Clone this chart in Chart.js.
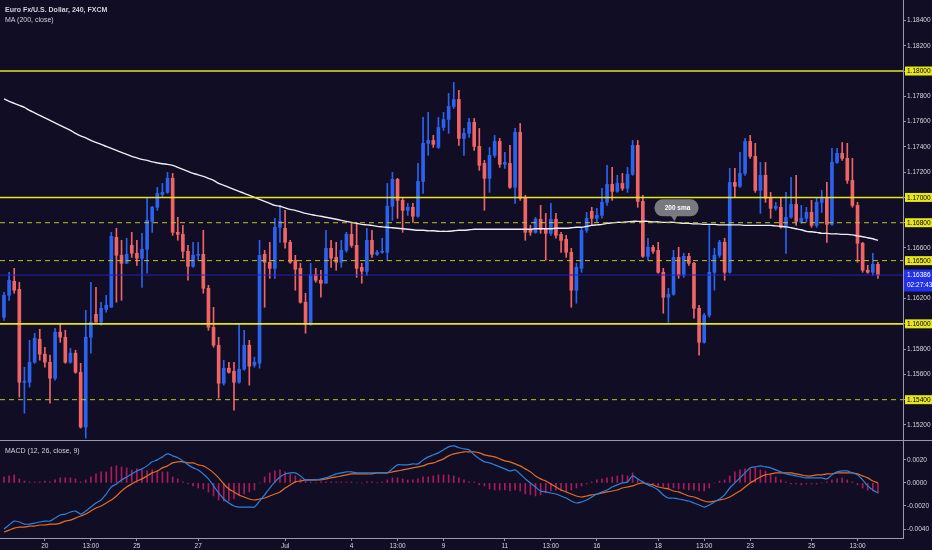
<!DOCTYPE html>
<html>
<head>
<meta charset="utf-8">
<title>Euro Fx/U.S. Dollar, 240, FXCM</title>
<script src="https://cdn.jsdelivr.net/npm/chart.js@4.4.1/dist/chart.umd.min.js"></script>
<style>
    html, body { margin: 0; padding: 0; background: #100d24; }
    #wrap { position: relative; width: 932px; height: 550px; overflow: hidden; background: #100d24; }
    canvas { position: absolute; left: 0; display: block; }
    #main { top: 0; }
    #macd { top: 440px; }
    #sep { position: absolute; left: 0; top: 440px; width: 932px; height: 1px; background: #9a98ac; }
    .lbl { position: absolute; left: 5px; font: 7px 'Liberation Sans', Arial, sans-serif; line-height: 1; color: #d2d2da; white-space: nowrap; }
</style>
</head>
<body>
<div id="wrap">
    <canvas id="main" width="932" height="440"></canvas>
    <canvas id="macd" width="932" height="110"></canvas>
    <div id="sep"></div>
    <div class="lbl" style="top:5.5px;font-weight:bold">Euro Fx/U.S. Dollar, 240, FXCM</div>
    <div class="lbl" style="top:15.5px">MA (200, close)</div>
    <div class="lbl" style="top:447px">MACD (12, 26, close, 9)</div>
</div>
<script>
// 4H candles, EUR/USD (FXCM)
const opens = [
    1.16052, 1.16226, 1.16337, 1.16273, 1.15538, 1.15538, 1.15696, 1.15878, 1.15760, 1.15696,
    1.15570, 1.15934, 1.15894, 1.15696, 1.15768, 1.15617, 1.15183, 1.15894, 1.16076, 1.16013,
    1.16115, 1.16131, 1.16685, 1.16542, 1.16479, 1.16621, 1.16558, 1.16519, 1.16590, 1.16811,
    1.16922, 1.17024, 1.17040, 1.17151, 1.16724, 1.16708, 1.16574, 1.16455, 1.16542, 1.16550,
    1.16281, 1.15973, 1.15831, 1.15530, 1.15649, 1.15625, 1.15538, 1.15641, 1.15831, 1.15673,
    1.15688, 1.16550, 1.16487, 1.16439, 1.16764, 1.16756, 1.16645, 1.16503, 1.16439, 1.16171,
    1.15997, 1.16392, 1.16345, 1.16321, 1.16598, 1.16526, 1.16487, 1.16582, 1.16708, 1.16621,
    1.16447, 1.16416, 1.16661, 1.16550, 1.16566, 1.16566, 1.16930, 1.17143, 1.16977, 1.16898,
    1.16922, 1.16851, 1.17127, 1.17428, 1.17451, 1.17396, 1.17554, 1.17617, 1.17720, 1.17775,
    1.17467, 1.17507, 1.17594, 1.17404, 1.17269, 1.17151, 1.17333, 1.17443, 1.17262, 1.17269,
    1.17080, 1.17515, 1.16993, 1.16748, 1.16724, 1.16827, 1.16748, 1.16716, 1.16827, 1.16708,
    1.16669, 1.16566, 1.16266, 1.16439, 1.16740, 1.16890, 1.16835, 1.16858, 1.16961, 1.17103,
    1.17048, 1.17111, 1.17072, 1.17183, 1.17412, 1.16969, 1.16534, 1.16605, 1.16582, 1.16408,
    1.16210, 1.16234, 1.16526, 1.16384, 1.16534, 1.16479, 1.16123, 1.15854, 1.16068, 1.16408,
    1.16542, 1.16645, 1.16408, 1.17119, 1.17088, 1.17190, 1.17443, 1.17325, 1.17056, 1.17175,
    1.16993, 1.16914, 1.16922, 1.16764, 1.16843, 1.16945, 1.16803, 1.16835, 1.16882, 1.16779,
    1.16961, 1.16993, 1.16787, 1.17277, 1.17349, 1.17309, 1.17135, 1.16937, 1.16637, 1.16424,
    1.16408, 1.16471
];
const highs = [
    1.16250, 1.16408, 1.16439, 1.16329, 1.15657, 1.15870, 1.15926, 1.15957, 1.15815, 1.15752,
    1.15965, 1.16005, 1.15949, 1.15807, 1.15791, 1.15688, 1.16107, 1.16329, 1.16289, 1.16171,
    1.16226, 1.16724, 1.16756, 1.16661, 1.16677, 1.16724, 1.16661, 1.16716, 1.17001, 1.16930,
    1.17080, 1.17111, 1.17198, 1.17190, 1.16843, 1.16779, 1.16621, 1.16645, 1.16645, 1.16740,
    1.16305, 1.16131, 1.15894, 1.15712, 1.15696, 1.15696, 1.16005, 1.15949, 1.15870, 1.15736,
    1.16661, 1.16582, 1.16645, 1.16835, 1.16937, 1.16898, 1.16661, 1.16542, 1.16479, 1.16242,
    1.16479, 1.16439, 1.16424, 1.16740, 1.16661, 1.16645, 1.16661, 1.16724, 1.16795, 1.16803,
    1.16479, 1.16756, 1.16740, 1.16582, 1.16677, 1.17111, 1.17198, 1.17151, 1.16993, 1.16953,
    1.16953, 1.17269, 1.17633, 1.17673, 1.17491, 1.17633, 1.17673, 1.17823, 1.17910, 1.17847,
    1.17546, 1.17625, 1.17625, 1.17546, 1.17293, 1.17396, 1.17491, 1.17467, 1.17356, 1.17412,
    1.17546, 1.17586, 1.17017, 1.16779, 1.16843, 1.16937, 1.16874, 1.16953, 1.16874, 1.16724,
    1.16700, 1.16598, 1.16479, 1.16756, 1.16882, 1.16922, 1.16914, 1.17072, 1.17254, 1.17238,
    1.17175, 1.17190, 1.17238, 1.17451, 1.17451, 1.17017, 1.16677, 1.16621, 1.16645, 1.16439,
    1.16281, 1.16582, 1.16605, 1.16558, 1.16558, 1.16487, 1.16147, 1.16084, 1.16779, 1.16598,
    1.16661, 1.16677, 1.17230, 1.17230, 1.17356, 1.17467, 1.17491, 1.17428, 1.17277, 1.17277,
    1.17040, 1.16961, 1.17001, 1.17040, 1.17159, 1.17175, 1.16937, 1.16922, 1.16977, 1.16993,
    1.17056, 1.17119, 1.17388, 1.17388, 1.17435, 1.17428, 1.17309, 1.16961, 1.16645, 1.16463,
    1.16558, 1.16487
];
const lows = [
    1.16028, 1.16186, 1.16242, 1.15420, 1.15293, 1.15499, 1.15688, 1.15712, 1.15657, 1.15372,
    1.15554, 1.15854, 1.15688, 1.15688, 1.15609, 1.15175, 1.15096, 1.15768, 1.16013, 1.15989,
    1.16092, 1.16131, 1.16171, 1.16186, 1.16479, 1.16526, 1.16463, 1.16289, 1.16400, 1.16724,
    1.16898, 1.17001, 1.17032, 1.16700, 1.16661, 1.16519, 1.16345, 1.16447, 1.16503, 1.16242,
    1.15949, 1.15815, 1.15412, 1.15515, 1.15609, 1.15317, 1.15530, 1.15633, 1.15515, 1.15657,
    1.15649, 1.16131, 1.16360, 1.16360, 1.16645, 1.16598, 1.16479, 1.16266, 1.16163, 1.15926,
    1.15989, 1.16329, 1.16210, 1.16321, 1.16447, 1.16424, 1.16447, 1.16566, 1.16605, 1.16368,
    1.16321, 1.16384, 1.16526, 1.16542, 1.16558, 1.16503, 1.16819, 1.16835, 1.16724, 1.16858,
    1.16803, 1.16843, 1.17032, 1.17333, 1.17396, 1.17388, 1.17530, 1.17507, 1.17704, 1.17412,
    1.17333, 1.17475, 1.17372, 1.17214, 1.16898, 1.17040, 1.17317, 1.17238, 1.17230, 1.17072,
    1.16953, 1.16977, 1.16661, 1.16700, 1.16716, 1.16716, 1.16503, 1.16700, 1.16677, 1.16566,
    1.16526, 1.16131, 1.16163, 1.16408, 1.16724, 1.16779, 1.16803, 1.16835, 1.16937, 1.16977,
    1.17040, 1.17056, 1.17040, 1.17175, 1.16922, 1.16526, 1.16503, 1.16558, 1.16400, 1.16084,
    1.16013, 1.16226, 1.16360, 1.16368, 1.16463, 1.16044, 1.15752, 1.15847, 1.16052, 1.16266,
    1.16526, 1.16345, 1.16400, 1.17001, 1.17080, 1.17175, 1.17309, 1.17040, 1.16874, 1.16961,
    1.16835, 1.16898, 1.16756, 1.16558, 1.16835, 1.16779, 1.16795, 1.16803, 1.16764, 1.16764,
    1.16882, 1.16645, 1.16779, 1.17269, 1.17293, 1.17111, 1.16922, 1.16487, 1.16408, 1.16400,
    1.16384, 1.16360
];
const closes = [
    1.16226, 1.16345, 1.16266, 1.15538, 1.15545, 1.15696, 1.15886, 1.15760, 1.15696, 1.15570,
    1.15934, 1.15894, 1.15696, 1.15768, 1.15617, 1.15183, 1.15894, 1.16013, 1.16013, 1.16123,
    1.16147, 1.16692, 1.16542, 1.16479, 1.16550, 1.16558, 1.16519, 1.16590, 1.16819, 1.16922,
    1.17032, 1.17040, 1.17151, 1.16724, 1.16708, 1.16574, 1.16455, 1.16542, 1.16550, 1.16281,
    1.15973, 1.15831, 1.15530, 1.15649, 1.15617, 1.15538, 1.15641, 1.15831, 1.15665, 1.15696,
    1.16542, 1.16487, 1.16439, 1.16764, 1.16811, 1.16645, 1.16487, 1.16432, 1.16171, 1.15997,
    1.16392, 1.16345, 1.16321, 1.16598, 1.16519, 1.16487, 1.16582, 1.16708, 1.16621, 1.16439,
    1.16416, 1.16661, 1.16550, 1.16566, 1.16574, 1.16930, 1.17143, 1.16977, 1.16898, 1.16922,
    1.16851, 1.17127, 1.17428, 1.17451, 1.17420, 1.17554, 1.17617, 1.17720, 1.17775, 1.17467,
    1.17507, 1.17594, 1.17404, 1.17254, 1.17151, 1.17333, 1.17443, 1.17262, 1.17277, 1.17080,
    1.17515, 1.16993, 1.16724, 1.16724, 1.16827, 1.16748, 1.16716, 1.16827, 1.16700, 1.16661,
    1.16566, 1.16266, 1.16447, 1.16740, 1.16835, 1.16835, 1.16858, 1.16961, 1.17103, 1.17048,
    1.17111, 1.17072, 1.17183, 1.17412, 1.16969, 1.16534, 1.16605, 1.16574, 1.16408, 1.16210,
    1.16234, 1.16526, 1.16384, 1.16534, 1.16479, 1.16123, 1.15854, 1.16068, 1.16408, 1.16542,
    1.16645, 1.16408, 1.17119, 1.17088, 1.17190, 1.17443, 1.17325, 1.17056, 1.17175, 1.16993,
    1.16914, 1.16930, 1.16764, 1.16843, 1.16945, 1.16811, 1.16835, 1.16882, 1.16779, 1.16961,
    1.16993, 1.16787, 1.17277, 1.17349, 1.17309, 1.17135, 1.16937, 1.16637, 1.16424, 1.16408,
    1.16471, 1.16386
];
// MA (200, close)
const ma200 = [
    1.17779, 1.17760, 1.17744, 1.17728, 1.17712, 1.17688, 1.17669, 1.17649, 1.17629, 1.17609,
    1.17590, 1.17570, 1.17550, 1.17530, 1.17507, 1.17487, 1.17471, 1.17451, 1.17435, 1.17420,
    1.17404, 1.17388, 1.17372, 1.17356, 1.17341, 1.17325, 1.17313, 1.17301, 1.17293, 1.17281,
    1.17273, 1.17266, 1.17262, 1.17254, 1.17238, 1.17222, 1.17206, 1.17190, 1.17179, 1.17167,
    1.17151, 1.17135, 1.17111, 1.17096, 1.17080, 1.17064, 1.17048, 1.17032, 1.17017, 1.17001,
    1.16985, 1.16969, 1.16953, 1.16937, 1.16930, 1.16918, 1.16906, 1.16898, 1.16886, 1.16874,
    1.16866, 1.16858, 1.16851, 1.16843, 1.16835, 1.16827, 1.16819, 1.16811, 1.16803, 1.16795,
    1.16787, 1.16783, 1.16779, 1.16771, 1.16767, 1.16764, 1.16760, 1.16756, 1.16752, 1.16748,
    1.16744, 1.16740, 1.16740, 1.16736, 1.16736, 1.16732, 1.16732, 1.16732, 1.16736, 1.16740,
    1.16740, 1.16744, 1.16748, 1.16748, 1.16748, 1.16748, 1.16748, 1.16748, 1.16748, 1.16748,
    1.16748, 1.16748, 1.16748, 1.16748, 1.16752, 1.16752, 1.16752, 1.16752, 1.16756, 1.16756,
    1.16756, 1.16760, 1.16764, 1.16764, 1.16771, 1.16779, 1.16783, 1.16787, 1.16795, 1.16799,
    1.16803, 1.16803, 1.16807, 1.16811, 1.16811, 1.16811, 1.16811, 1.16807, 1.16807, 1.16803,
    1.16803, 1.16803, 1.16799, 1.16795, 1.16795, 1.16791, 1.16791, 1.16787, 1.16787, 1.16787,
    1.16783, 1.16783, 1.16783, 1.16783, 1.16783, 1.16779, 1.16779, 1.16779, 1.16779, 1.16779,
    1.16779, 1.16775, 1.16771, 1.16767, 1.16760, 1.16752, 1.16744, 1.16732, 1.16728, 1.16724,
    1.16716, 1.16716, 1.16712, 1.16712, 1.16708, 1.16708, 1.16704, 1.16696, 1.16689, 1.16681,
    1.16673, 1.16661
];
// MACD (12, 26, close, 9)
const macdLine = [
    -0.00400, -0.00365, -0.00331, -0.00339, -0.00357, -0.00357, -0.00348, -0.00339, -0.00331, -0.00331,
    -0.00305, -0.00278, -0.00270, -0.00252, -0.00244, -0.00270, -0.00244, -0.00209, -0.00174, -0.00148,
    -0.00096, -0.00035, -0.00009, 0.00026, 0.00052, 0.00078, 0.00104, 0.00122, 0.00148, 0.00183,
    0.00200, 0.00226, 0.00252, 0.00235, 0.00218, 0.00191, 0.00157, 0.00131, 0.00113, 0.00078,
    0.00035, -0.00026, -0.00087, -0.00139, -0.00174, -0.00200, -0.00209, -0.00209, -0.00209, -0.00209,
    -0.00157, -0.00104, -0.00044, 0.00009, 0.00052, 0.00078, 0.00087, 0.00087, 0.00061, 0.00026,
    0.00026, 0.00026, 0.00035, 0.00044, 0.00061, 0.00078, 0.00087, 0.00096, 0.00096, 0.00087,
    0.00087, 0.00087, 0.00087, 0.00087, 0.00087, 0.00087, 0.00122, 0.00157, 0.00157, 0.00157,
    0.00165, 0.00165, 0.00200, 0.00226, 0.00244, 0.00261, 0.00287, 0.00313, 0.00322, 0.00305,
    0.00296, 0.00287, 0.00244, 0.00209, 0.00183, 0.00174, 0.00157, 0.00139, 0.00122, 0.00104,
    0.00113, 0.00078, 0.00035, 0.00000, -0.00035, -0.00070, -0.00078, -0.00087, -0.00096, -0.00113,
    -0.00131, -0.00157, -0.00174, -0.00165, -0.00148, -0.00122, -0.00096, -0.00078, -0.00061, -0.00035,
    -0.00017, 0.00000, 0.00009, 0.00061, 0.00035, 0.00009, -0.00017, -0.00035, -0.00061, -0.00104,
    -0.00131, -0.00131, -0.00139, -0.00148, -0.00157, -0.00174, -0.00191, -0.00209, -0.00191, -0.00165,
    -0.00139, -0.00104, -0.00044, 0.00000, 0.00044, 0.00087, 0.00131, 0.00139, 0.00148, 0.00139,
    0.00131, 0.00113, 0.00096, 0.00078, 0.00070, 0.00061, 0.00052, 0.00044, 0.00044, 0.00044,
    0.00044, 0.00035, 0.00070, 0.00096, 0.00104, 0.00104, 0.00087, 0.00070, 0.00026, -0.00026,
    -0.00061, -0.00087
];
const signalLine = [
    -0.00426, -0.00409, -0.00392, -0.00383, -0.00383, -0.00374, -0.00374, -0.00365, -0.00365, -0.00357,
    -0.00357, -0.00348, -0.00331, -0.00322, -0.00305, -0.00287, -0.00270, -0.00244, -0.00218, -0.00200,
    -0.00174, -0.00148, -0.00113, -0.00070, -0.00035, -0.00009, 0.00017, 0.00035, 0.00061, 0.00087,
    0.00104, 0.00131, 0.00148, 0.00174, 0.00183, 0.00183, 0.00174, 0.00174, 0.00157, 0.00148,
    0.00122, 0.00087, 0.00044, -0.00009, -0.00052, -0.00078, -0.00104, -0.00122, -0.00139, -0.00148,
    -0.00139, -0.00131, -0.00113, -0.00096, -0.00078, -0.00044, -0.00017, 0.00009, 0.00017, 0.00026,
    0.00026, 0.00026, 0.00026, 0.00035, 0.00044, 0.00052, 0.00061, 0.00070, 0.00078, 0.00078,
    0.00078, 0.00078, 0.00078, 0.00087, 0.00087, 0.00087, 0.00096, 0.00104, 0.00113, 0.00122,
    0.00131, 0.00139, 0.00148, 0.00165, 0.00174, 0.00191, 0.00209, 0.00235, 0.00252, 0.00261,
    0.00270, 0.00270, 0.00270, 0.00261, 0.00244, 0.00235, 0.00226, 0.00209, 0.00191, 0.00183,
    0.00165, 0.00148, 0.00122, 0.00096, 0.00061, 0.00035, 0.00017, -0.00009, -0.00035, -0.00061,
    -0.00078, -0.00096, -0.00113, -0.00122, -0.00113, -0.00104, -0.00096, -0.00087, -0.00078, -0.00070,
    -0.00061, -0.00044, -0.00035, -0.00026, -0.00009, 0.00000, -0.00009, -0.00017, -0.00035, -0.00044,
    -0.00052, -0.00070, -0.00078, -0.00096, -0.00113, -0.00122, -0.00139, -0.00157, -0.00165, -0.00157,
    -0.00148, -0.00139, -0.00122, -0.00096, -0.00070, -0.00035, 0.00000, 0.00026, 0.00052, 0.00070,
    0.00078, 0.00087, 0.00087, 0.00087, 0.00087, 0.00078, 0.00070, 0.00061, 0.00061, 0.00070,
    0.00070, 0.00078, 0.00078, 0.00087, 0.00087, 0.00087, 0.00087, 0.00078, 0.00061, 0.00044,
    0.00017, 0.00000
];
const macdHist = [
    0.00052, 0.00061, 0.00070, 0.00035, 0.00017, 0.00009, 0.00009, 0.00009, 0.00017, 0.00009,
    0.00026, 0.00044, 0.00044, 0.00044, 0.00035, 0.00009, 0.00026, 0.00052, 0.00078, 0.00096,
    0.00096, 0.00139, 0.00148, 0.00139, 0.00131, 0.00113, 0.00122, 0.00113, 0.00104, 0.00113,
    0.00104, 0.00096, 0.00096, 0.00052, 0.00035, 0.00009, -0.00009, -0.00026, -0.00044, -0.00052,
    -0.00078, -0.00113, -0.00148, -0.00157, -0.00157, -0.00139, -0.00113, -0.00096, -0.00078, -0.00061,
    0.00000, 0.00052, 0.00087, 0.00104, 0.00113, 0.00096, 0.00078, 0.00061, 0.00035, 0.00017,
    0.00009, 0.00000, 0.00009, 0.00009, 0.00009, 0.00009, 0.00009, 0.00009, 0.00009, 0.00000,
    0.00000, 0.00009, 0.00009, 0.00000, 0.00009, 0.00026, 0.00044, 0.00044, 0.00035, 0.00026,
    0.00026, 0.00035, 0.00052, 0.00052, 0.00061, 0.00070, 0.00070, 0.00070, 0.00061, 0.00044,
    0.00026, 0.00009, 0.00009, -0.00017, -0.00026, -0.00052, -0.00061, -0.00061, -0.00061, -0.00070,
    -0.00061, -0.00070, -0.00096, -0.00104, -0.00113, -0.00104, -0.00087, -0.00070, -0.00061, -0.00070,
    -0.00070, -0.00061, -0.00044, -0.00026, -0.00009, 0.00009, 0.00026, 0.00035, 0.00044, 0.00052,
    0.00061, 0.00070, 0.00061, 0.00087, 0.00035, 0.00017, 0.00000, -0.00009, -0.00026, -0.00035,
    -0.00052, -0.00044, -0.00052, -0.00052, -0.00061, -0.00061, -0.00070, -0.00070, -0.00044, 0.00000,
    0.00017, 0.00026, 0.00061, 0.00096, 0.00113, 0.00122, 0.00122, 0.00131, 0.00113, 0.00104,
    0.00070, 0.00052, 0.00026, 0.00009, -0.00009, -0.00009, -0.00017, -0.00009, -0.00009, -0.00009,
    0.00000, 0.00009, 0.00026, 0.00035, 0.00044, 0.00026, 0.00009, -0.00017, -0.00044, -0.00061,
    -0.00070, -0.00087
];

// axes
const tickIdx = [8, 17, 26, 38, 55, 68, 77, 86, 98, 107, 116, 128, 137, 146, 158, 167];
const tickText = ['20', '13:00', '25', '27', 'Jul', '4', '13:00', '9', '11', '13:00', '16', '18', '13:00', '23', '25', '13:00'];
const priceTicks = [1.152, 1.154, 1.156, 1.158, 1.160, 1.162, 1.164, 1.166, 1.168, 1.170, 1.172, 1.174, 1.176, 1.178, 1.180, 1.182, 1.184];
const macdTicks = [0.002, 0, -0.002, -0.004];

// drawn levels
const solidLevels = [1.180, 1.170, 1.160];
const dashedLevels = [1.168, 1.165, 1.154];
const lastPrice = 1.16386;
const countdown = '02:27:43';
const smaNote = '200 sma';
const smaNoteIdx = 131;

const FONT = "'Liberation Sans', Arial, sans-serif";
const UP = '#2b63ee';
const DOWN = '#ef6464';
const YELLOW = '#e6e61e';
const DASH_YELLOW = '#c2c22c';
const AXIS = '#9a98ac';
const TEXT = '#d6d6de';
const X_MIN = -0.78;
const X_MAX = 175.9;

const candleColors = closes.map((c, i) => c >= opens[i] ? UP : DOWN);
const pts = (arr) => arr.map((v, i) => ({ x: i, y: v }));

function fixedY(width) {
    return function (s) {
        s.width = width;
        s.paddingTop = 0;
        s.paddingBottom = 0;
    };
}

const levelsPlugin = {
    id: 'levels',
    afterDatasetsDraw(chart) {
        const { ctx, chartArea: a, scales: { x, y } } = chart;
        ctx.save();
        ctx.beginPath();
        ctx.rect(a.left, a.top, a.right - a.left, a.bottom - a.top);
        ctx.clip();

        const hline = (v) => {
            const py = y.getPixelForValue(v);
            ctx.beginPath();
            ctx.moveTo(a.left, py);
            ctx.lineTo(a.right, py);
            ctx.stroke();
        };

        ctx.strokeStyle = '#2323b4';
        ctx.lineWidth = 1;
        hline(lastPrice);

        ctx.strokeStyle = YELLOW;
        ctx.lineWidth = 1.6;
        solidLevels.forEach(hline);

        ctx.strokeStyle = DASH_YELLOW;
        ctx.lineWidth = 1;
        ctx.setLineDash([5, 4]);
        dashedLevels.forEach(hline);
        ctx.setLineDash([]);

        // "200 sma" note bubble
        const tx = x.getPixelForValue(smaNoteIdx);
        const ty = y.getPixelForValue(ma200[smaNoteIdx]) - 1;
        const bl = tx - 19, bt = ty - 22, bw = 44, bh = 17;
        ctx.fillStyle = 'rgba(128,128,134,0.95)';
        ctx.beginPath();
        ctx.roundRect(bl, bt, bw, bh, 8);
        ctx.fill();
        ctx.beginPath();
        ctx.moveTo(tx - 3, bt + bh - 1);
        ctx.lineTo(tx + 4, bt + bh - 1);
        ctx.lineTo(tx + 1, ty);
        ctx.closePath();
        ctx.fill();
        ctx.fillStyle = '#ffffff';
        ctx.font = 'bold 6.5px ' + FONT;
        ctx.textAlign = 'center';
        ctx.textBaseline = 'middle';
        ctx.fillText(smaNote, bl + bw / 2 + 1, bt + bh / 2);
        ctx.restore();
    },
    afterDraw(chart) {
        const { ctx, scales: { y } } = chart;
        ctx.save();
        ctx.font = '6.5px ' + FONT;
        ctx.textAlign = 'left';
        ctx.textBaseline = 'middle';
        solidLevels.concat(dashedLevels).forEach(v => {
            const py = y.getPixelForValue(v);
            ctx.fillStyle = YELLOW;
            ctx.fillRect(y.left + 2, py - 4.5, y.right - y.left - 2, 9);
            ctx.fillStyle = '#000000';
            ctx.fillText(v.toFixed(5), y.left + 4, py + 0.5);
        });
        const py = y.getPixelForValue(lastPrice);
        ctx.fillStyle = '#2232ea';
        ctx.fillRect(y.left + 1, py - 5.5, y.right - y.left - 1, 22);
        ctx.fillStyle = '#ffffff';
        ctx.fillText(lastPrice.toFixed(5), y.left + 4, py);
        ctx.fillText(countdown, y.left + 4, py + 10.5);
        ctx.restore();
    }
};

new Chart(document.getElementById('main').getContext('2d'), {
    type: 'bar',
    data: {
        datasets: [{
            type: 'line',
            label: 'MA (200, close)',
            data: pts(ma200),
            borderColor: '#ededf2',
            borderWidth: 1.4,
            pointRadius: 0,
            tension: 0.3,
            order: 0
        }, {
            label: 'body',
            data: opens.map((o, i) => ({ x: i, y: [o, closes[i]] })),
            backgroundColor: candleColors,
            barThickness: 3,
            minBarLength: 1,
            grouped: false,
            order: 1
        }, {
            label: 'wick',
            data: lows.map((l, i) => ({ x: i, y: [l, highs[i]] })),
            backgroundColor: candleColors,
            barThickness: 1,
            grouped: false,
            order: 2
        }]
    },
    options: {
        responsive: false,
        animation: false,
        layout: { padding: 0 },
        scales: {
            x: {
                type: 'linear',
                min: X_MIN,
                max: X_MAX,
                offset: false,
                display: false,
                grid: { offset: false }
            },
            y: {
                position: 'right',
                min: 1.15081,
                max: 1.18562,
                afterBuildTicks: s => { s.ticks = priceTicks.map(v => ({ value: v })); },
                afterFit: fixedY(29),
                ticks: {
                    callback: v => v.toFixed(5),
                    color: TEXT,
                    font: { size: 6.5, family: FONT },
                    padding: 1
                },
                grid: { drawOnChartArea: false, tickLength: 3, color: AXIS },
                border: { color: AXIS }
            }
        },
        plugins: {
            legend: { display: false },
            tooltip: { enabled: false }
        }
    },
    plugins: [levelsPlugin]
});

new Chart(document.getElementById('macd').getContext('2d'), {
    type: 'bar',
    data: {
        datasets: [{
            type: 'line',
            label: 'MACD',
            data: pts(macdLine),
            borderColor: '#2f80d8',
            borderWidth: 1.2,
            pointRadius: 0,
            tension: 0.3,
            order: 0
        }, {
            type: 'line',
            label: 'Signal',
            data: pts(signalLine),
            borderColor: '#e36d2b',
            borderWidth: 1.2,
            pointRadius: 0,
            tension: 0.3,
            order: 1
        }, {
            label: 'Histogram',
            data: pts(macdHist),
            backgroundColor: 'rgba(206,32,104,0.8)',
            barThickness: 1,
            grouped: false,
            order: 2
        }]
    },
    options: {
        responsive: false,
        animation: false,
        layout: { padding: { top: 1, left: 0, right: 0, bottom: 0 } },
        scales: {
            x: {
                type: 'linear',
                min: X_MIN,
                max: X_MAX,
                offset: false,
                afterBuildTicks: s => { s.ticks = tickIdx.map(v => ({ value: v })); },
                afterFit: s => { s.height = 12; s.paddingLeft = 0; s.paddingRight = 0; },
                ticks: {
                    callback: v => tickText[tickIdx.indexOf(v)],
                    autoSkip: false,
                    maxRotation: 0,
                    color: TEXT,
                    font: { size: 6.5, family: FONT },
                    padding: 1
                },
                grid: { drawOnChartArea: false, offset: false, tickLength: 3, color: AXIS },
                border: { color: AXIS }
            },
            y: {
                position: 'right',
                min: -0.004776,
                max: 0.003638,
                afterBuildTicks: s => { s.ticks = macdTicks.map(v => ({ value: v })); },
                afterFit: fixedY(29),
                ticks: {
                    callback: v => v.toFixed(4),
                    color: TEXT,
                    font: { size: 6.5, family: FONT },
                    padding: 1
                },
                grid: { drawOnChartArea: false, tickLength: 3, color: AXIS },
                border: { color: AXIS }
            }
        },
        plugins: {
            legend: { display: false },
            tooltip: { enabled: false }
        }
    }
});
</script>
</body>
</html>
